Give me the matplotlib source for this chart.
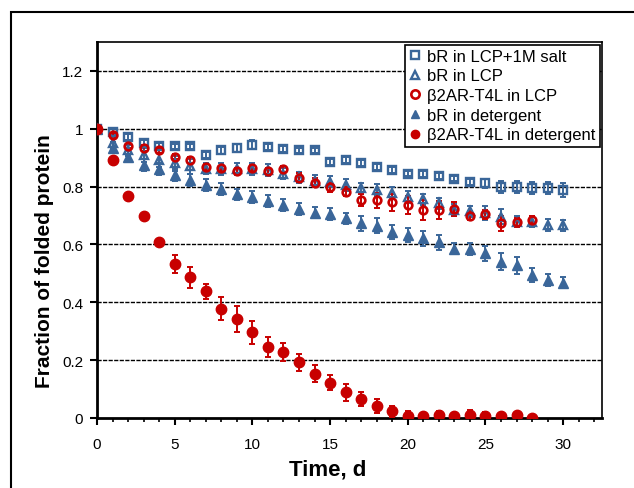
import matplotlib
matplotlib.use("Agg")
import matplotlib.pyplot as plt
from matplotlib.patches import Rectangle

plt.rcParams['font.family'] = ['Liberation Sans', 'DejaVu Sans']

# days
days_30 = list(range(0, 31))
days_28 = list(range(0, 29))

# bR in LCP+1M salt
salt = [1.0, 0.99, 0.972, 0.951, 0.942, 0.939, 0.939, 0.910, 0.925, 0.933,
        0.945, 0.936, 0.930, 0.925, 0.925, 0.884, 0.892, 0.881, 0.867, 0.858,
        0.845, 0.843, 0.838, 0.828, 0.816, 0.811, 0.799, 0.799, 0.796, 0.796,
        0.788]
salt_err = [0.0, 0.008, 0.01, 0.01, 0.01, 0.01, 0.01, 0.01, 0.012, 0.015,
            0.015, 0.01, 0.01, 0.01, 0.01, 0.01, 0.01, 0.01, 0.01, 0.01,
            0.01, 0.01, 0.01, 0.01, 0.012, 0.015, 0.02, 0.02, 0.02, 0.02,
            0.025]

# bR in LCP
lcp = [1.0, 0.95, 0.925, 0.91, 0.892, 0.88, 0.87, 0.862, 0.86, 0.86,
       0.86, 0.858, 0.845, 0.832, 0.82, 0.817, 0.806, 0.794, 0.788, 0.777,
       0.765, 0.756, 0.742, 0.719, 0.714, 0.708, 0.696, 0.679, 0.679, 0.668,
       0.666]
lcp_err = [0.0, 0.02, 0.02, 0.025, 0.025, 0.025, 0.025, 0.02, 0.02, 0.02,
           0.02, 0.02, 0.02, 0.02, 0.02, 0.02, 0.02, 0.02, 0.02, 0.02,
           0.02, 0.02, 0.02, 0.02, 0.02, 0.025, 0.025, 0.02, 0.02, 0.02,
           0.02]

# beta2AR-T4L in LCP
b2_lcp = [1.0, 0.977, 0.941, 0.933, 0.925, 0.904, 0.893, 0.869, 0.863, 0.855,
          0.865, 0.855, 0.860, 0.831, 0.814, 0.797, 0.783, 0.754, 0.752, 0.746,
          0.737, 0.719, 0.719, 0.723, 0.700, 0.704, 0.673, 0.676, 0.684]
b2_lcp_err = [0.0, 0.008, 0.008, 0.01, 0.01, 0.01, 0.01, 0.01, 0.01, 0.01,
              0.01, 0.01, 0.01, 0.015, 0.015, 0.015, 0.015, 0.02, 0.025, 0.03,
              0.03, 0.035, 0.03, 0.025, 0.015, 0.015, 0.025, 0.015, 0.015]

# bR in detergent
det = [1.0, 0.935, 0.904, 0.875, 0.860, 0.841, 0.823, 0.806, 0.791, 0.773,
       0.765, 0.750, 0.736, 0.723, 0.710, 0.706, 0.690, 0.673, 0.665, 0.644,
       0.632, 0.621, 0.607, 0.586, 0.584, 0.569, 0.540, 0.528, 0.494, 0.477,
       0.468]
det_err = [0.0, 0.02, 0.02, 0.02, 0.02, 0.02, 0.02, 0.02, 0.02, 0.02,
           0.02, 0.02, 0.02, 0.02, 0.02, 0.02, 0.02, 0.025, 0.025, 0.025,
           0.025, 0.025, 0.025, 0.02, 0.02, 0.025, 0.03, 0.03, 0.025, 0.02,
           0.02]

# beta2AR-T4L in detergent
b2_det = [1.0, 0.893, 0.768, 0.700, 0.607, 0.532, 0.486, 0.438, 0.378, 0.343,
          0.297, 0.245, 0.228, 0.193, 0.153, 0.122, 0.089, 0.066, 0.041, 0.023,
          0.008, 0.007, 0.010, 0.007, 0.012, 0.006, 0.006, 0.010, 0.0]
b2_det_err = [0.0, 0.005, 0.005, 0.005, 0.005, 0.03, 0.035, 0.025, 0.04, 0.045,
              0.04, 0.035, 0.03, 0.03, 0.03, 0.025, 0.03, 0.025, 0.025, 0.02,
              0.015, 0.012, 0.015, 0.012, 0.015, 0.015, 0.01, 0.012, 0.005]

blue = '#3A6699'
red = '#C80000'

fig = plt.figure(figsize=(6.34, 4.89), dpi=100)
# outer chart border (runs off the right and bottom of the picture)
fig.patches.append(Rectangle((11 / 634, -0.1), 1.2, 1.1 - 13 / 489,
                             transform=fig.transFigure, fill=False,
                             edgecolor='black', linewidth=1.5))
ax = fig.add_axes([97 / 634, 70 / 489, 505 / 634, 376 / 489])

# x, y, err, marker, face, colour, size, edge width, label
series = [
    (days_30, salt, salt_err, 's', 'none', blue, 5.5, 1.7, 'bR in LCP+1M salt'),
    (days_30, lcp, lcp_err, '^', 'none', blue, 6.0, 1.7, 'bR in LCP'),
    (days_28, b2_lcp, b2_lcp_err, 'o', 'none', red, 5.5, 1.9, 'β2AR-T4L in LCP'),
    (days_30, det, det_err, '^', blue, blue, 7.5, 1.0, 'bR in detergent'),
    (days_28, b2_det, b2_det_err, 'o', red, red, 7.5, 1.0, 'β2AR-T4L in detergent'),
]

for x, y, e, m, fc, c, ms, mew, lab in series:
    ax.errorbar(x, y, yerr=e, fmt='none', ecolor=c, elinewidth=1.4,
                capsize=2.2, capthick=1.4, zorder=3)
    ax.plot(x, y, linestyle='none', marker=m, markersize=ms,
            markerfacecolor=fc, markeredgecolor=c, markeredgewidth=mew,
            label=lab, zorder=4)

ax.set_xlim(0, 32.5)
ax.set_ylim(0, 1.3)
ax.set_xticks([0, 5, 10, 15, 20, 25, 30])
ax.set_xticks(range(0, 33), minor=True)
ax.set_yticks([0, 0.2, 0.4, 0.6, 0.8, 1.0, 1.2])
ax.set_yticklabels(['0', '0.2', '0.4', '0.6', '0.8', '1', '1.2'])
ax.tick_params(axis='both', which='major', direction='out', length=5,
               width=1.5, labelsize=11, pad=5)
ax.tick_params(axis='x', which='major', pad=9)
ax.tick_params(axis='x', which='minor', direction='out', length=3, width=1.2)

for v in [0.2, 0.4, 0.6, 0.8, 1.0, 1.2]:
    ax.axhline(v, color='black', linewidth=1, linestyle=(0, (3, 1)), zorder=1)

for s in ['left', 'bottom']:
    ax.spines[s].set_linewidth(2)
for s in ['top', 'right']:
    ax.spines[s].set_linewidth(1.2)

ax.set_xlabel('Time, d', fontsize=16, fontweight='bold')
ax.xaxis.set_label_coords(0.457, -0.108)
ax.set_ylabel('Fraction of folded protein', fontsize=15, fontweight='bold')
ax.yaxis.set_label_coords(-0.086, 0.42)

leg = ax.legend(loc='upper right', fontsize=12, frameon=True, fancybox=False,
                edgecolor='black', framealpha=1, borderaxespad=0.15,
                handlelength=0.7, handletextpad=0.35, labelspacing=0.28,
                borderpad=0.25)
leg.get_frame().set_linewidth(1.2)
for h in leg.legend_handles:
    h.set_markersize(6)

fig.savefig('out.png', dpi=100)
